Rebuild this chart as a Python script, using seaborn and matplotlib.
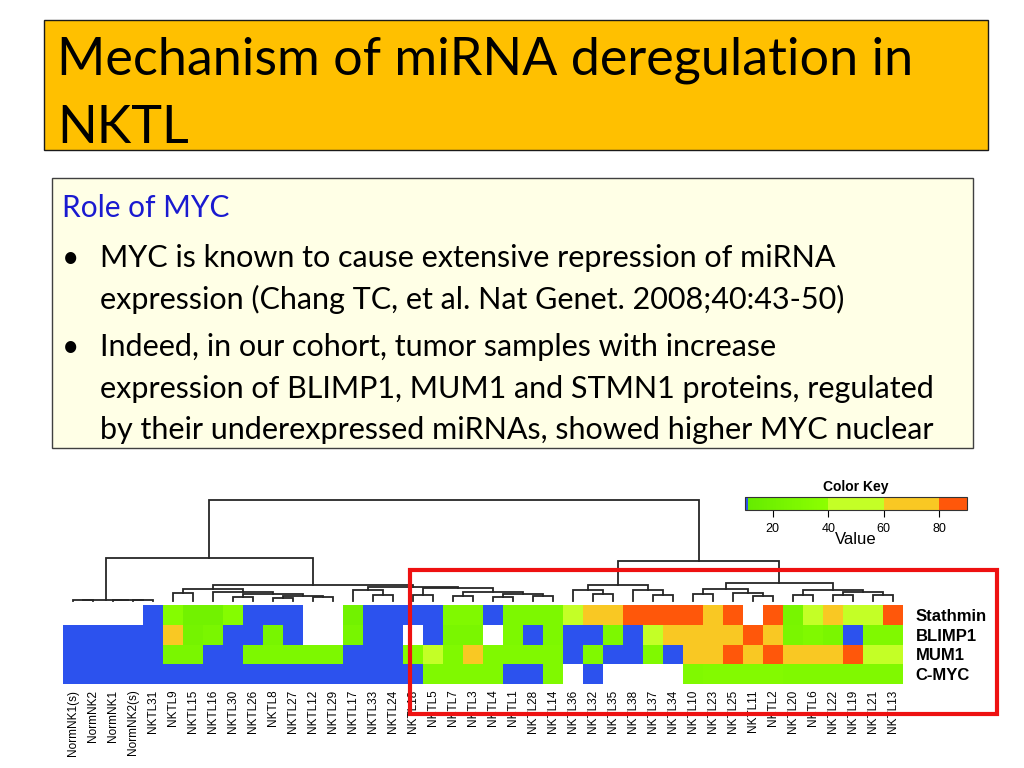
import numpy as np
import pandas as pd
import matplotlib
matplotlib.use("Agg")
import matplotlib.pyplot as plt
from matplotlib.colors import ListedColormap, LinearSegmentedColormap
from matplotlib.patches import Rectangle
import seaborn as sns

nan = np.nan

# muestras (columnas) y proteinas (filas) del heatmap
muestras = ['NormNK1(s)', 'NormNK2', 'NormNK1', 'NormNK2(s)', 'NKTL31', 'NKTL9', 'NKTL15',
            'NKTL16', 'NKTL30', 'NKTL26', 'NKTL8', 'NKTL27', 'NKTL12', 'NKTL29', 'NKTL17',
            'NKTL33', 'NKTL24', 'NKTL18', 'NKTL5', 'NKTL7', 'NKTL3', 'NKTL4', 'NKTL1',
            'NKTL28', 'NKTL14', 'NKTL36', 'NKTL32', 'NKTL35', 'NKTL38', 'NKTL37', 'NKTL34',
            'NKTL10', 'NKTL23', 'NKTL25', 'NKTL11', 'NKTL2', 'NKTL20', 'NKTL6', 'NKTL22',
            'NKTL19', 'NKTL21', 'NKTL13']
proteinas = ['Stathmin', 'BLIMP1', 'MUM1', 'C-MYC']

# valores (nan = celda en blanco)
stathmin = [nan, nan, nan, nan, 10.5, 34, 20, 20, 34, 10.5, 10.5, 10.5, nan, nan, 20, 10.5,
            10.5, 10.5, 10.5, 30, 30, 10.5, 28, 28, 28, 50, 70, 70, 85, 85, 85, 85, 70, 85,
            nan, 85, 24, 50, 70, 50, 50, 85]
blimp1 = [10.5, 10.5, 10.5, 10.5, 10.5, 70, 22, 26, 10.5, 10.5, 24, 10.5, nan, nan, 24, 10.5,
          10.5, nan, 10.5, 26, 26, nan, 28, 10.5, 28, 10.5, 10.5, 28, 10.5, 50, 70, 70, 70,
          70, 85, 70, 26, 30, 26, 10.5, 30, 30]
mum1 = [10.5, 10.5, 10.5, 10.5, 10.5, 26, 26, 10.5, 10.5, 28, 28, 28, 28, 28, 10.5, 10.5,
        10.5, 34, 50, 30, 70, 30, 30, 30, 30, 10.5, 30, 10.5, 10.5, 30, 10.5, 70, 70, 85,
        70, 85, 70, 70, 70, 85, 50, 50]
cmyc = [10.5, 10.5, 10.5, 10.5, 10.5, 10.5, 10.5, 10.5, 10.5, 10.5, 10.5, 10.5, 10.5, 10.5,
        10.5, 10.5, 10.5, 10.5, 30, 30, 30, 30, 10.5, 10.5, 30, nan, 10.5, nan, nan, nan,
        nan, 30, 32, 32, 32, 32, 30, 30, 30, 30, 30, 30]

# dendrograma de columnas (estilo linkage: ids >= 42 son nodos ya unidos)
enlace_izq = [0, 3, 2, 42, 5, 8, 10, 12, 48, 47, 7, 46, 15, 14, 17, 19, 21, 23, 58, 57, 56,
              55, 53, 45, 26, 25, 29, 28, 67, 31, 34, 33, 71, 36, 38, 40, 76, 75, 74, 70, 65]
enlace_der = [1, 4, 43, 44, 6, 9, 11, 13, 49, 50, 51, 52, 16, 54, 18, 20, 22, 24, 59, 60, 61,
              62, 63, 64, 27, 66, 30, 68, 69, 32, 35, 72, 73, 37, 39, 41, 77, 78, 79, 80, 81]
enlace_altura = [0.8, 0.6, 1.0, 1.5, 8, 4, 3, 4, 5.5, 7, 9, 12, 6, 11, 6, 5, 4, 5, 7, 9, 13,
                 14, 16, 43, 7, 11, 6, 11, 16, 7, 5, 8, 12, 6, 6, 6, 9, 11, 18, 40, 101]

ticks_clave = [20, 40, 60, 80]

datos = pd.DataFrame([stathmin, blimp1, mum1, cmyc], index=proteinas, columns=muestras)

# paleta: azul, verde, verde-amarillo, dorado, rojo-naranja (rango 10-90)
verdes = LinearSegmentedColormap.from_list('v', ['#66EC00', '#8CFF00'])
colores = ['#2C52EE'] + [verdes(i / 28) for i in range(29)] + ['#C4FF26'] * 20 \
          + ['#F9C823'] * 20 + ['#FF570A'] * 10
cmap = ListedColormap(colores)


def caja(x0, y0, x1, y1):
    return [x0 / 1024, 1 - y1 / 768, (x1 - x0) / 1024, (y1 - y0) / 768]


fig = plt.figure(figsize=(10.24, 7.68), dpi=100)
fig.patch.set_facecolor('white')

ax_hm = fig.add_axes(caja(63, 605, 903, 684))
ax_den = fig.add_axes(caja(63, 500, 903, 601))
ax_cb = fig.add_axes(caja(745, 497, 967, 510))

sns.heatmap(datos, ax=ax_hm, cmap=cmap, vmin=10, vmax=90, cbar_ax=ax_cb,
            cbar_kws={'orientation': 'horizontal', 'ticks': ticks_clave},
            xticklabels=muestras, yticklabels=proteinas)

ax_hm.yaxis.tick_right()
ax_hm.set_yticklabels(proteinas, rotation=0, ha='left', fontweight='bold', fontsize=12,
                      family='Liberation Sans')
ax_hm.set_xticklabels(muestras, rotation=90, fontsize=8.5, family='Liberation Sans')
ax_hm.tick_params(axis='y', length=0, pad=9)
ax_hm.tick_params(axis='x', length=0, pad=4)
ax_hm.set_xlabel('')
ax_hm.set_ylabel('')

# colorbar / color key
cb = ax_hm.collections[0].colorbar
cb.outline.set_linewidth(0.8)
cb.outline.set_edgecolor('#333333')
ax_cb.tick_params(axis='x', length=5, width=0.8, labelsize=9, pad=4)
for t in ax_cb.get_xticklabels():
    t.set_family('Liberation Sans')
ax_cb.set_title('Color Key', fontweight='bold', fontsize=10, pad=4, family='Liberation Sans')
ax_cb.set_xlabel('Value', fontsize=12, labelpad=-2, family='Liberation Sans')

# dendrograma
n = len(muestras)
pos_x = {i: i + 0.5 for i in range(n)}
alt = {i: 0.0 for i in range(n)}
for k, (a, b, h) in enumerate(zip(enlace_izq, enlace_der, enlace_altura)):
    xa, xb = pos_x[a], pos_x[b]
    ax_den.plot([xa, xa, xb, xb], [alt[a], h, h, alt[b]], color='#262626', lw=1.3,
                solid_joinstyle='miter', clip_on=False)
    pos_x[n + k] = (xa + xb) / 2
    alt[n + k] = h
ax_den.set_xlim(0, n)
ax_den.set_ylim(0, max(enlace_altura))
ax_den.axis('off')
ax_den.patch.set_alpha(0)

# lamina: titulo, texto y recuadro rojo
lam = fig.add_axes([0, 0, 1, 1], zorder=10)
lam.set_xlim(0, 1024)
lam.set_ylim(768, 0)
lam.axis('off')
lam.patch.set_alpha(0)

lam.add_patch(Rectangle((44, 20), 944, 130, facecolor='#FFC000', edgecolor='#1a1a1a', lw=1))
lam.text(57, 75, 'Mechanism of miRNA deregulation in', fontsize=37.5, family='Lato',
         va='baseline', ha='left', color='black')
lam.text(57, 143, 'NKTL', fontsize=37.5, family='Lato', va='baseline', ha='left', color='black')

lam.add_patch(Rectangle((52, 178), 921, 270, facecolor='#FFFFE6', edgecolor='#404040', lw=1))
lam.text(62, 217, 'Role of MYC', fontsize=21.5, family='Lato', color='#1a1ad0', va='baseline')
lineas = [(267, True, 'MYC is known to cause extensive repression of miRNA'),
          (309, False, 'expression (Chang TC, et al. Nat Genet. 2008;40:43-50)'),
          (356, True, 'Indeed, in our cohort, tumor samples with increase'),
          (398, False, 'expression of BLIMP1, MUM1 and STMN1 proteins, regulated'),
          (439, False, 'by their underexpressed miRNAs, showed higher MYC nuclear')]
for y, bala, txt in lineas:
    if bala:
        lam.text(62, y, '\u2022', fontsize=21.5, family='Lato', va='baseline')
    lam.text(100, y, txt, fontsize=22, family='Lato', va='baseline')

lam.add_patch(Rectangle((410, 570), 587, 144, facecolor='none', edgecolor='#EE1111', lw=3))

fig.savefig('out.png', dpi=100)
